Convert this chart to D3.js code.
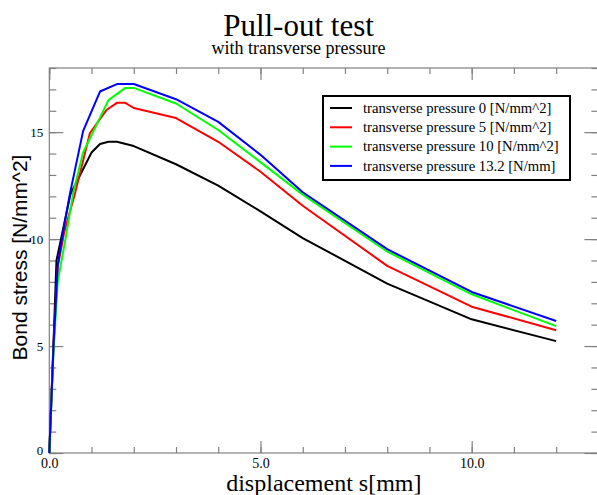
<!DOCTYPE html>
<html>
<head>
<meta charset="utf-8">
<script src="https://cdn.jsdelivr.net/npm/d3@7"></script>
<style>
  html, body { margin: 0; padding: 0; background: #fff; }
  svg { display: block; }
</style>
</head>
<body>
<svg id="chart" width="597" height="495"></svg>
<script>
// ---- data ----
const seriesNames = [
  "transverse pressure 0 [N/mm^2]",
  "transverse pressure 5 [N/mm^2]",
  "transverse pressure 10 [N/mm^2]",
  "transverse pressure 13.2 [N/mm]"
];
const seriesColors = ["#000000", "#ff0000", "#00ff00", "#0000ff"];

const p0x = [0, 0.1, 0.17, 0.5, 1.0, 1.2, 1.4, 1.6, 2.0, 3.0, 4.0, 5.0, 6.0, 8.0, 10.0, 12.0];
const p0y = [0, 5.2, 9.0, 12.1, 14.05, 14.45, 14.55, 14.55, 14.35, 13.5, 12.5, 11.3, 10.05, 7.92, 6.25, 5.23];

const p5x = [0, 0.1, 0.2, 0.35, 0.61, 0.96, 1.36, 1.6, 1.8, 2.0, 3.0, 4.0, 5.0, 6.0, 8.0, 10.0, 12.0];
const p5y = [0, 5.0, 8.7, 10.3, 12.15, 14.95, 16.05, 16.37, 16.37, 16.13, 15.66, 14.55, 13.15, 11.56, 8.75, 6.84, 5.74];

const p10x = [0, 0.1, 0.2, 0.4, 0.57, 0.8, 1.4, 1.8, 2.0, 3.0, 4.0, 5.0, 6.0, 8.0, 10.0, 12.0];
const p10y = [0, 4.8, 8.0, 10.2, 12.2, 14.05, 16.5, 17.07, 17.07, 16.34, 15.1, 13.6, 12.08, 9.42, 7.42, 5.93];

const p13x = [0, 0.1, 0.2, 0.35, 0.49, 0.8, 1.2, 1.6, 2.0, 3.0, 4.0, 5.0, 6.0, 8.0, 10.0, 12.0];
const p13y = [0, 5.0, 8.8, 10.6, 12.14, 15.05, 16.9, 17.25, 17.25, 16.54, 15.48, 13.94, 12.19, 9.53, 7.53, 6.17];

const xMajorTicks = [0, 5, 10];
const yMajorTicks = [0, 5, 10, 15];
const xMinorTicks = [0,1,2,3,4,5,6,7,8,9,10,11,12,13];
const yMinorTicks = [0,1,2,3,4,5,6,7,8,9,10,11,12,13,14,15,16,17,18];

const titleText = "Pull-out test";
const subtitleText = "with transverse pressure";
const xLabel = "displacement s[mm]";
const yLabel = "Bond stress [N/mm^2]";

// ---- build ----
const allX = [p0x, p5x, p10x, p13x];
const allY = [p0y, p5y, p10y, p13y];
const series = seriesNames.map((name, i) => ({
  name, color: seriesColors[i],
  values: allX[i].map((x, j) => ({x, y: allY[i][j]}))
}));

const svg = d3.select("#chart");
const L = 49.3, R = 598.4, T = 68, B = 453;
const x = d3.scaleLinear().domain([0, 13]).range([L, R]);
const y = d3.scaleLinear().domain([0, 18]).range([B, T]);

const axisColor = "#808080";
const serif = "'Liberation Serif', 'Times New Roman', serif";

function styleAxis(size) {
  return g => {
    g.select(".domain").remove();
    g.selectAll(".tick line").attr("stroke", axisColor).attr("stroke-width", 1.2);
    g.selectAll(".tick text").attr("fill", "#000").style("font-family", serif).style("font-size", size);
  };
}

// minor ticks
svg.append("g").attr("transform", `translate(0,${B})`)
  .call(d3.axisBottom(x).tickValues(xMinorTicks).tickSize(-6).tickFormat("")).call(styleAxis("13px"));
svg.append("g").attr("transform", `translate(0,${T})`)
  .call(d3.axisTop(x).tickValues(xMinorTicks).tickSize(-6).tickFormat("")).call(styleAxis("13px"));
svg.append("g").attr("transform", `translate(${L},0)`)
  .call(d3.axisLeft(y).tickValues(yMinorTicks).tickSize(-7).tickFormat("")).call(styleAxis("13px"));
svg.append("g").attr("transform", `translate(${R},0)`)
  .call(d3.axisRight(y).tickValues(yMinorTicks).tickSize(-7).tickFormat("")).call(styleAxis("13px"));

// major ticks
svg.append("g").attr("transform", `translate(0,${B})`)
  .call(d3.axisBottom(x).tickValues(xMajorTicks).tickSize(-12).tickPadding(5).tickFormat(d3.format(".1f"))).call(styleAxis("14px"));
svg.append("g").attr("transform", `translate(0,${T})`)
  .call(d3.axisTop(x).tickValues(xMajorTicks).tickSize(-12).tickFormat("")).call(styleAxis("13px"));
const yAx = svg.append("g").attr("transform", `translate(${L},0)`)
  .call(d3.axisLeft(y).tickValues(yMajorTicks).tickSize(-14).tickPadding(6).tickFormat(d3.format("d"))).call(styleAxis("13px"));
yAx.selectAll(".tick text").filter(d => d === 0).attr("dy", "0.1em");
svg.append("g").attr("transform", `translate(${R},0)`)
  .call(d3.axisRight(y).tickValues(yMajorTicks).tickSize(-14).tickFormat("")).call(styleAxis("13px"));

// frame
svg.append("rect").attr("x", L).attr("y", T).attr("width", R - L).attr("height", B - T)
  .attr("fill", "none").attr("stroke", axisColor).attr("stroke-width", 1.2);

// lines
const line = d3.line().x(d => x(d.x)).y(d => y(d.y));
svg.append("g").selectAll("path").data(series).join("path")
  .attr("d", d => line(d.values))
  .attr("fill", "none")
  .attr("stroke", d => d.color)
  .attr("stroke-width", 2)
  .attr("stroke-linejoin", "round");

// titles
svg.append("text").attr("x", 298.5).attr("y", 36).attr("text-anchor", "middle")
  .style("font-family", serif).style("font-size", "31px").text(titleText);
svg.append("text").attr("x", 298.5).attr("y", 54).attr("text-anchor", "middle")
  .style("font-family", serif).style("font-size", "18px").text(subtitleText);

// axis labels
svg.append("text").attr("x", (L + R) / 2).attr("y", 491).attr("text-anchor", "middle")
  .style("font-family", serif).style("font-size", "24px").text(xLabel);
svg.append("text").attr("transform", `translate(27,${(T + B) / 2 - 3}) rotate(-90)`)
  .attr("text-anchor", "middle")
  .style("font-family", "'Liberation Sans', Arial, sans-serif").style("font-size", "21px").text(yLabel);

// legend
const lg = svg.append("g");
lg.append("rect").attr("x", 323).attr("y", 96).attr("width", 247).attr("height", 84)
  .attr("fill", "#fff").attr("stroke", "#000").attr("stroke-width", 2);
const rows = lg.selectAll("g.row").data(series).join("g").attr("class", "row")
  .attr("transform", (d, i) => `translate(0,${108 + i * 19.3})`);
rows.append("line").attr("x1", 330).attr("x2", 352).attr("y1", 0).attr("y2", 0)
  .attr("stroke", d => d.color).attr("stroke-width", 2);
rows.append("text").attr("x", 363).attr("y", 0).attr("dy", "0.33em")
  .style("font-family", serif).style("font-size", "14.7px").text(d => d.name);
</script>
</body>
</html>
